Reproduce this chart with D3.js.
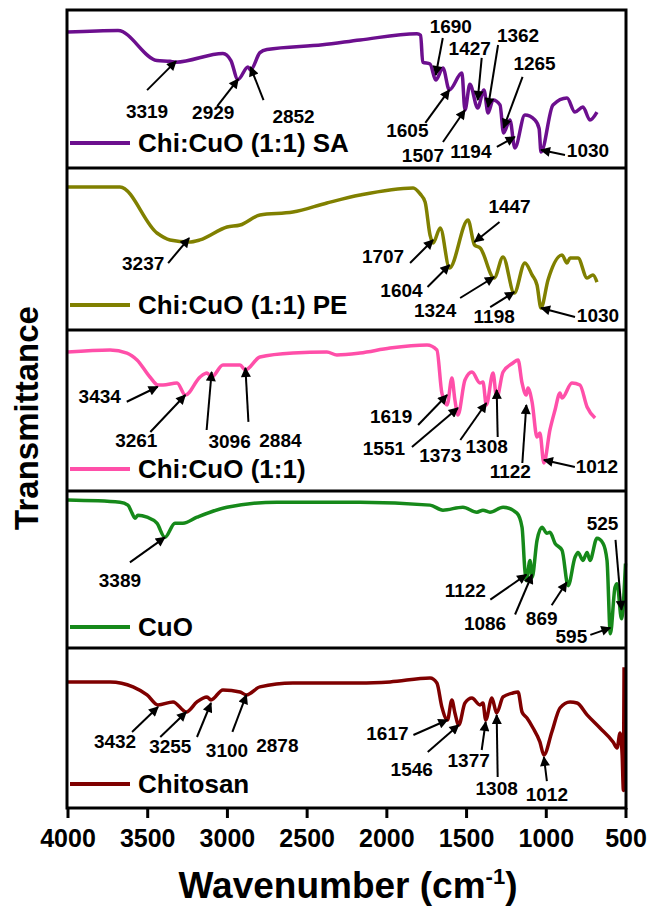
<!DOCTYPE html>
<html>
<head>
<meta charset="utf-8">
<title>FTIR</title>
<style>
    body { margin: 0; background: #fff; }
    svg text { font-family: "Liberation Sans", Arial, sans-serif; font-weight: bold; fill: #000; }
</style>
</head>
<body>
<svg id="ftir"></svg>
<script src="https://d3js.org/d3.v7.min.js"></script>
<script>
// panels, top to bottom
var names = ["Chi:CuO (1:1) SA", "Chi:CuO (1:1) PE", "Chi:CuO (1:1)", "CuO", "Chitosan"];
var colors = ["#6c0f8e", "#808000", "#ff4fa9", "#16891a", "#7f0000"];

// [wavenumber, transmittance (a.u.)]
var saData = [[4000,86],[3683,87],[3439,68],[3357,67.5],[3319,67],[3025,72.5],[2975,68],[2931,56],[2868,64],[2852,62],[2793,73],[2749,75],
    [2400,78],[2165,81],[1808,85],[1785,84],[1772,67],[1726,65.8],[1690,55.7],[1645,63.3],[1605,49.4],[1526,60.1],[1507,36.7],[1476,53],
    [1427,38],[1388,49.4],[1362,34.8],[1331,43],[1287,39.9],[1265,22.2],[1225,30.4],[1194,12.7],[1131,33.5],[1068,30.4],[1042,25],
    [1030,10.1],[955,39.9],[867,44.3],[817,35.4],[767,38.6],[723,30.4],[679,35.4]];
var peData = [[4000,88.3],[3671,88.3],[3439,59.9],[3357,55.6],[3237,54.3],[3169,55.6],[2999,63.6],[2917,64.8],[2793,71],[2586,72.8],
    [2373,78.4],[2165,83.3],[1832,87.7],[1788,84],[1757,79],[1726,58.6],[1707,53.7],[1662,63],[1604,38.3],[1488,67.9],[1447,52.5],
    [1410,50.5],[1324,32.1],[1268,45.1],[1198,22.8],[1131,41.4],[1086,34],[1055,27.8],[1030,13.6],[986,30.9],[898,46.3],[867,41.4],
    [848,44.4],[798,44.4],[741,32.1],[704,34],[679,29.6]];
var pinkData = [[4000,86.3],[3733,87.6],[3627,85.7],[3564,81.4],[3483,70.8],[3432,65.8],[3401,65.8],[3313,67.1],[3261,59.6],[3169,70.8],
    [3125,73.3],[3096,70.8],[3025,78.3],[2918,78.3],[2884,75.2],[2793,83.2],[2586,85.7],[2373,86.3],[2310,84.5],[2165,85.7],[1977,88.8],
    [1745,90.7],[1683,87.6],[1652,60.9],[1619,53.4],[1589,70.2],[1570,56.5],[1551,47.2],[1507,68.9],[1463,73.9],[1413,67.1],[1394,67.7],
    [1373,53.4],[1331,73.3],[1308,57.8],[1268,73.9],[1206,79.5],[1174,81.4],[1149,67.1],[1122,59.6],[1112,64],[1086,55.3],[1055,33.5],
    [1037,36],[1012,17.4],[974,37.9],[942,50.3],[911,60.9],[898,57.8],[836,67.1],[786,65.8],[741,52.2],[691,45.3]];
var cuoData = [[4000,94.2],[3671,92.9],[3621,91],[3595,85.9],[3577,82.7],[3558,84.6],[3501,83.3],[3439,79.5],[3389,70.5],[3326,79.5],
    [3276,79.5],[3188,83.3],[3000,89.7],[2686,92.9],[2165,92.9],[1726,91],[1645,87.8],[1520,89.7],[1432,86.5],[1394,87.8],[1350,86.5],
    [1268,89.7],[1181,85.9],[1149,76.9],[1131,49.4],[1122,42.9],[1099,55.8],[1086,44.9],[1055,68.6],[1024,76.9],[993,73.1],[974,73.7],
    [942,66.7],[898,62.2],[860,39.7],[817,57.7],[798,60.9],[767,55.8],[741,60.9],[723,55.8],[679,69.9],[641,66.7],[616,55.8],[595,9],
    [566,38.5],[553,41],[525,18.6],[500,53.8]];
var chitosanData = [[4000,78.8],[3733,78.8],[3589,75.7],[3501,70.7],[3432,64.4],[3338,66.3],[3255,60],[3188,66.3],[3125,69.4],[3100,67.5],
    [3025,73.8],[2918,72.5],[2878,70.7],[2793,75.7],[2586,78.1],[2165,78.1],[1977,78.8],[1726,81.2],[1683,78.1],[1652,63.2],[1617,55],
    [1589,67.5],[1570,59.4],[1546,51.9],[1507,65.6],[1463,68.7],[1413,64.4],[1394,65.6],[1377,55],[1338,68.7],[1308,59.4],[1268,69.4],
    [1206,71.9],[1174,72.5],[1149,60],[1118,56.2],[1080,50],[1037,41.3],[1012,33.1],[962,47.5],[911,62.5],[848,66.3],[804,65.6],
    [741,58.2],[660,50],[578,41.3],[553,37.5],[534,46.9],[521,33.1],[513,11],[509,88]];

// labelled peaks
var saPeaks = [3319, 2929, 2852, 1690, 1605, 1507, 1427, 1362, 1265, 1194, 1030];
var pePeaks = [3237, 1707, 1604, 1447, 1324, 1198, 1030];
var pinkPeaks = [3434, 3261, 3096, 2884, 1619, 1551, 1373, 1308, 1122, 1012];
var cuoPeaks = [3389, 1122, 1086, 869, 595, 525];
var chitosanPeaks = [3432, 3255, 3100, 2878, 1617, 1546, 1377, 1308, 1012];

var xTicks = [4000, 3500, 3000, 2500, 2000, 1500, 1000, 500];

// layout: [tail dx, tail dy, label dx, label dy, tip shift from curve]
var annoLayout = [
    {3319:[-29,29,-29,57,-1], 2929:[-21,27,-25,40,0], 2852:[13,33,43,56,-3], 1690:[7,-37,15,-42,-5], 1605:[-24,33,-42,47,0],
     1507:[-22,32,-42,52,0], 1427:[4,-42,-8,-45,-8], 1362:[10,-62,30,-65,-6], 1265:[19,-51,31,-58,-5], 1194:[-18,10,-44,21,-11],
     1030:[24,5,47,7,-2]},
    {3237:[-21,25,-46,32,-4], 1707:[-23,23,-50,23,-3], 1604:[-22,22,-48,32,-3], 1447:[25,-20,35,-29,-3], 1324:[-34,21,-59,40,-1],
     1198:[-24,15,-20,31,-1], 1030:[34,9,57,14,0]},
    {3434:[-31,15,-58,16,2], 3261:[-35,37,-49,52,0], 3096:[-5,58,18,76,-5], 2884:[3,54,35,79,-2], 1619:[-29,30,-56,28,-10],
     1551:[-46,39,-74,47,-7], 1373:[-26,37,-46,59,-2], 1308:[1,47,-10,63,-8], 1122:[-4,58,-16,73,10], 1012:[31,7,53,13,-3]},
    {3389:[-35,25,-45,50,0], 1122:[-36,25,-61,22,-6], 1086:[-17,40,-47,55,-3], 869:[-15,23,-25,43,5], 595:[-20,7,-39,15,-6],
     525:[-6,-70,-19,-80,-9]},
    {3432:[-26,25,-43,41,2], 3255:[-26,25,-16,41,0], 3100:[-14,34,16,54,3], 2878:[-14,37,31,57,0], 1617:[-34,15,-60,20,0],
     1546:[-31,27,-47,51,0], 1377:[-4,28,-17,45,2], 1308:[1,62,0,80,2], 1012:[3,24,3,44,2]}
];

var allData = [saData, peData, pinkData, cuoData, chitosanData];
var allPeaks = [saPeaks, pePeaks, pinkPeaks, cuoPeaks, chitosanPeaks];

var W = 649, H = 908;
var left = 67, right = 626;
var edges = [10, 168, 330, 491, 648, 808];
var legendY = [143, 305, 469, 627, 784];

var svg = d3.select("#ftir").attr("width", W).attr("height", H);

var x = d3.scaleLinear().domain([4000, 500]).range([left + 0.5, right - 0.5]);

svg.append("defs").append("marker")
    .attr("id", "head")
    .attr("viewBox", "0 0 10 10")
    .attr("refX", 9).attr("refY", 5)
    .attr("markerWidth", 13).attr("markerHeight", 10)
    .attr("markerUnits", "userSpaceOnUse")
    .attr("orient", "auto")
    .append("path").attr("d", "M0,0 L10,5 L0,10 z").attr("fill", "#000");

var line = d3.line().curve(d3.curveMonotoneX);

allData.forEach(function(data, i) {
    var y = d3.scaleLinear().domain([0, 100]).range([edges[i + 1], edges[i]]);
    var g = svg.append("g").attr("class", "panel");

    line.x(function(d) { return x(d[0]); }).y(function(d) { return y(d[1]); });
    g.append("path")
        .datum(data)
        .attr("d", line)
        .attr("fill", "none")
        .attr("stroke", colors[i])
        .attr("stroke-width", 3.5)
        .attr("stroke-linejoin", "round");

    // legend
    g.append("line")
        .attr("x1", left + 3).attr("x2", left + 63)
        .attr("y1", legendY[i]).attr("y2", legendY[i])
        .attr("stroke", colors[i]).attr("stroke-width", 4);
    g.append("text")
        .attr("x", left + 71).attr("y", legendY[i] + 9)
        .style("font-size", "26px")
        .text(names[i]);

    // peak labels
    var bis = d3.bisector(function(d) { return -d[0]; }).left;
    function valueAt(w) {
        var k = bis(data, -w);
        if (k <= 0) return data[0][1];
        if (k >= data.length) return data[data.length - 1][1];
        var a = data[k - 1], b = data[k];
        var t = (w - a[0]) / (b[0] - a[0]);
        return a[1] + t * (b[1] - a[1]);
    }
    allPeaks[i].forEach(function(p) {
        var o = annoLayout[i][p];
        var tx = x(p), ty = y(valueAt(p)) + o[4];
        g.append("line")
            .attr("x1", tx + o[0]).attr("y1", ty + o[1])
            .attr("x2", tx).attr("y2", ty)
            .attr("stroke", "#000").attr("stroke-width", 2)
            .attr("marker-end", "url(#head)");
        g.append("text")
            .attr("x", tx + o[2]).attr("y", ty + o[3])
            .attr("text-anchor", "middle")
            .style("font-size", "19px")
            .text(p);
    });
});

// frame
var frame = svg.append("g").attr("fill", "none").attr("stroke", "#000").attr("stroke-width", 3);
frame.append("rect")
    .attr("x", left).attr("y", edges[0])
    .attr("width", right - left).attr("height", edges[5] - edges[0]);
edges.slice(1, 5).forEach(function(e) {
    frame.append("line").attr("x1", left).attr("x2", right).attr("y1", e).attr("y2", e);
});

// x axis
var xAxis = d3.axisBottom(x).tickValues(xTicks).tickSize(10).tickPadding(11).tickFormat(d3.format("d"));
var ax = svg.append("g").attr("transform", "translate(0," + edges[5] + ")").call(xAxis);
ax.select(".domain").remove();
ax.selectAll(".tick line").attr("stroke", "#000").attr("stroke-width", 3);
ax.selectAll(".tick text").style("font-size", "25px").style("font-family", "Liberation Sans, Arial, sans-serif")
    .style("font-weight", "bold").attr("fill", "#000");

var title = svg.append("text")
    .attr("x", 348).attr("y", 898)
    .attr("text-anchor", "middle")
    .style("font-size", "37px");
title.append("tspan").text("Wavenumber (cm");
title.append("tspan").attr("dy", -14).style("font-size", "22px").text("-1");
title.append("tspan").attr("dy", 14).text(")");

svg.append("text")
    .attr("transform", "translate(38,418) rotate(-90)")
    .attr("text-anchor", "middle")
    .style("font-size", "33px")
    .text("Transmittance");
</script>
</body>
</html>
